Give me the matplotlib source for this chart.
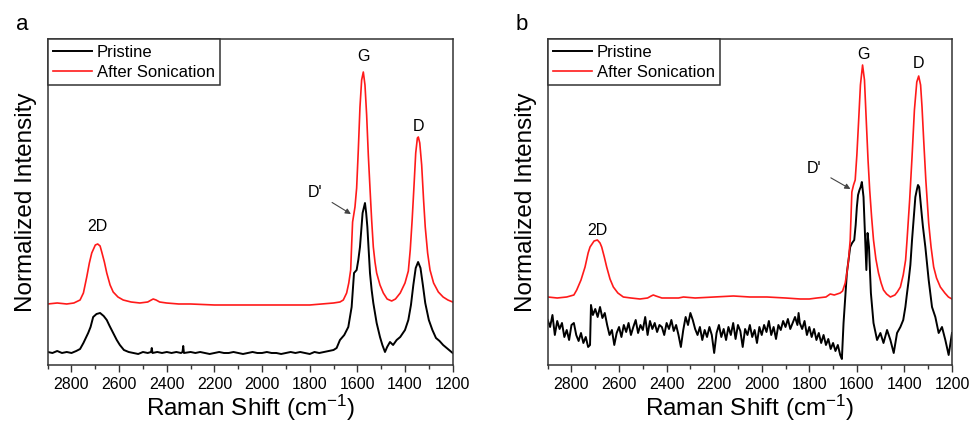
import numpy as np
import matplotlib.pyplot as plt
from matplotlib.ticker import MultipleLocator

plt.rcParams['font.family'] = ['Liberation Sans', 'DejaVu Sans']
plt.rcParams['mathtext.default'] = 'regular'

# ---- panel a : pristine (black) ----
a_pris_x = [2900, 2880, 2860, 2840, 2820, 2800, 2780, 2764, 2750, 2730, 2720, 2709, 2695, 2680,
            2665, 2652, 2640, 2625, 2610, 2597, 2580, 2560, 2540, 2520, 2500, 2480, 2466, 2463,
            2460, 2440, 2420, 2400, 2380, 2360, 2340, 2334, 2331, 2328, 2300, 2280, 2260, 2240,
            2220, 2200, 2180, 2160, 2140, 2120, 2100, 2080, 2060, 2040, 2020, 2000, 1980, 1960,
            1940, 1920, 1900, 1880, 1860, 1840, 1820, 1800, 1780, 1760, 1740, 1720, 1700, 1687,
            1673, 1655, 1638, 1624, 1614, 1603, 1596, 1589, 1578, 1568, 1563, 1558, 1547, 1540,
            1533, 1519, 1505, 1495, 1484, 1475, 1463, 1450, 1435, 1420, 1400, 1386, 1375, 1365,
            1355, 1345, 1335, 1325, 1315, 1300, 1285, 1270, 1255, 1240, 1225, 1210, 1200]
a_pris_y = [13, 12, 14, 12, 13, 12, 14, 16, 22, 32, 38, 48, 51, 52,
            49, 45, 39, 32, 25, 20, 15, 13, 12, 11, 13, 12, 13, 17,
            12, 13, 12, 13, 12, 13, 12, 13, 19, 12, 13, 12, 13, 12,
            11, 12, 13, 12, 12, 13, 12, 11, 12, 13, 12, 12, 13, 12,
            12, 11, 12, 13, 12, 13, 12, 11, 13, 12, 13, 14, 15, 17,
            25, 30, 38, 58, 92, 95, 105, 118, 152, 162, 152, 138, 92, 75,
            62, 42, 28, 20, 13, 18, 23, 20, 25, 28, 35, 45, 60, 80,
            97, 103, 97, 80, 62, 45, 35, 27, 24, 20, 17, 14, 12]

# ---- panel a : after sonication (red) ----
a_son_x = [2900, 2860, 2820, 2790, 2764, 2750, 2736, 2725, 2715, 2700, 2690, 2680, 2673, 2662,
           2652, 2638, 2625, 2605, 2583, 2550, 2513, 2480, 2465, 2457, 2445, 2430, 2401, 2350,
           2300, 2200, 2100, 2000, 1900, 1800, 1750, 1700, 1673, 1659, 1645, 1636, 1628, 1624,
           1620, 1610, 1603, 1596, 1589, 1582, 1575, 1568, 1561, 1554, 1547, 1540, 1533, 1526,
           1519, 1505, 1491, 1475, 1456, 1440, 1420, 1400, 1386, 1378, 1370, 1362, 1355, 1348,
           1344, 1338, 1330, 1322, 1315, 1305, 1295, 1280, 1260, 1240, 1220, 1200]
a_son_y = [61, 62, 61, 62, 65, 72, 88, 102, 112, 120, 121, 119, 113, 103,
           92, 80, 73, 68, 65, 63, 62, 63, 65, 66, 65, 63, 62, 61,
           61, 60, 60, 60, 60, 60, 61, 62, 63, 65, 72, 82, 95, 120,
           143, 158, 177, 215, 258, 285, 293, 280, 250, 210, 177, 145, 118, 103,
           92, 80, 72, 66, 64, 66, 72, 82, 94, 115, 145, 180, 212, 227,
           228, 222, 200, 165, 138, 112, 95, 82, 73, 68, 65, 63]

# ---- panel b : pristine (black, noisy) ----
b_pris_x = [2900, 2890, 2880, 2870, 2860, 2850, 2840, 2830, 2820, 2810, 2800, 2790, 2780, 2770,
            2760, 2750, 2740, 2730, 2722, 2718, 2710, 2700, 2690, 2680, 2670, 2660, 2650, 2640,
            2630, 2620, 2610, 2600, 2590, 2580, 2570, 2560, 2550, 2540, 2530, 2520, 2510, 2500,
            2490, 2480, 2470, 2460, 2450, 2440, 2430, 2420, 2410, 2400, 2390, 2380, 2370, 2360,
            2350, 2340, 2330, 2320, 2310, 2300, 2290, 2280, 2270, 2260, 2250, 2240, 2230, 2220,
            2210, 2200, 2190, 2180, 2170, 2160, 2150, 2140, 2130, 2120, 2110, 2100, 2090, 2080,
            2070, 2060, 2050, 2040, 2030, 2020, 2010, 2000, 1990, 1980, 1970, 1960, 1950, 1940,
            1930, 1920, 1910, 1900, 1890, 1880, 1870, 1860, 1850, 1845, 1840, 1830, 1820, 1810,
            1800, 1790, 1780, 1770, 1760, 1750, 1740, 1730, 1720, 1710, 1700, 1690, 1680, 1670,
            1663, 1656, 1642, 1628, 1620, 1611, 1605, 1600, 1595, 1589, 1584, 1579, 1572, 1565,
            1560, 1555, 1549, 1541, 1530, 1515, 1501, 1488, 1473, 1459, 1445, 1431, 1417, 1405,
            1396, 1390, 1382, 1375, 1368, 1360, 1354, 1348, 1343, 1338, 1333, 1327, 1322, 1312,
            1298, 1284, 1270, 1256, 1242, 1228, 1214, 1200]
b_pris_y = [45, 38, 50, 30, 44, 36, 42, 28, 35, 25, 40, 42, 30, 24,
            32, 22, 28, 18, 20, 60, 50, 56, 48, 58, 47, 52, 40, 30,
            35, 20, 32, 38, 28, 40, 33, 42, 30, 38, 45, 32, 40, 35,
            48, 30, 44, 36, 42, 33, 40, 38, 30, 42, 36, 45, 34, 40,
            30, 18, 35, 48, 40, 52, 45, 36, 30, 38, 25, 35, 28, 38,
            30, 12, 32, 40, 28, 36, 25, 38, 30, 42, 26, 40, 34, 18,
            36, 30, 40, 28, 35, 22, 38, 30, 40, 33, 44, 30, 38, 26,
            40, 35, 44, 38, 46, 36, 42, 48, 40, 52, 42, 36, 44, 30,
            38, 28, 36, 25, 32, 22, 30, 20, 26, 16, 22, 14, 20, 10,
            6, 42, 92, 118, 122, 125, 140, 158, 170, 175, 178, 183, 168, 125,
            95, 132, 118, 72, 42, 25, 32, 22, 35, 25, 12, 32, 38, 45,
            58, 70, 85, 100, 125, 150, 168, 175, 180, 178, 165, 150, 138, 118,
            85, 58, 48, 32, 38, 25, 10, 32]

# ---- panel b : after sonication (red) ----
b_son_x = [2900, 2860, 2820, 2790, 2778, 2760, 2743, 2730, 2722, 2705, 2691, 2680, 2673, 2662,
           2652, 2638, 2624, 2605, 2582, 2550, 2512, 2480, 2465, 2456, 2445, 2420, 2399, 2350,
           2329, 2280, 2200, 2119, 2050, 1978, 1900, 1838, 1800, 1768, 1730, 1712, 1695, 1670,
           1660, 1649, 1642, 1635, 1628, 1621, 1614, 1607, 1600, 1593, 1585, 1576, 1568, 1560,
           1553, 1546, 1538, 1530, 1520, 1509, 1498, 1488, 1475, 1459, 1440, 1430, 1417, 1405,
           1395, 1389, 1378, 1368, 1358, 1348, 1340, 1332, 1326, 1319, 1310, 1298, 1288, 1277,
           1265, 1249, 1230, 1215, 1200]
b_son_y = [68, 67, 68, 70, 75, 85, 98, 112, 118, 124, 125, 122, 118, 108,
           98, 86, 78, 72, 68, 67, 66, 67, 69, 70, 69, 67, 67, 67,
           68, 67, 68, 69, 68, 68, 67, 66, 66, 67, 68, 71, 70, 72,
           74, 82, 92, 105, 125, 173, 180, 185, 210, 242, 280, 300, 285, 242,
           205, 175, 148, 125, 106, 92, 82, 75, 71, 68, 70, 73, 78, 90,
           105, 125, 165, 208, 255, 283, 289, 280, 258, 225, 185, 142, 118, 98,
           87, 78, 72, 68, 66]

x_ticks = [2800, 2600, 2400, 2200, 2000, 1800, 1600, 1400, 1200]
legend_labels = ['Pristine', 'After Sonication']

# peak labels: (text, x, y)
a_peaks = [('2D', 2693, 139), ('G', 1576, 309), ('D', 1345, 239)]
b_peaks = [('2D', 2690, 135), ('G', 1574, 311), ('D', 1340, 302)]
# D' arrow: text pos, arrow tip
a_dprime = ((1778, 173), (1627, 151))
b_dprime = ((1782, 197), (1627, 176))

fig = plt.figure(figsize=(9.73, 4.25), dpi=100)
ax_a = fig.add_axes([0.049, 0.1412, 0.4162, 0.767])
ax_b = fig.add_axes([0.5629, 0.1412, 0.4155, 0.767])

panels = [
    (ax_a, a_pris_x, a_pris_y, a_son_x, a_son_y, a_peaks, a_dprime, 'a'),
    (ax_b, b_pris_x, b_pris_y, b_son_x, b_son_y, b_peaks, b_dprime, 'b'),
]

for ax, px, py, sx, sy, peaks, dprime, tag in panels:
    ax.plot(px, py, color='black', lw=1.4, label=legend_labels[0])
    ax.plot(sx, sy, color='#ff1a1a', lw=1.2, label=legend_labels[1])

    ax.set_xlim(2900, 1200)
    ax.set_ylim(0, 326)
    ax.set_xticks(x_ticks)
    ax.xaxis.set_minor_locator(MultipleLocator(100))
    ax.set_yticks([])
    ax.tick_params(axis='x', which='major', direction='out', length=5, width=1,
                   labelsize=11.5, top=False, colors='#333333', labelcolor='black')
    ax.tick_params(axis='x', which='minor', direction='out', length=3, width=1,
                   top=False, colors='#333333')
    for sp in ax.spines.values():
        sp.set_color('#333333')
        sp.set_linewidth(1.1)

    ax.set_xlabel('Raman Shift (cm$^{-1}$)', fontsize=17.5, labelpad=1)
    ax.set_ylabel('Normalized Intensity', fontsize=17.5, labelpad=8)

    for txt, x, y in peaks:
        ax.text(x, y, txt, fontsize=11.5, ha='center', va='center')
    (tx, ty), (hx, hy) = dprime
    ax.annotate("D'", xy=(hx, hy), xytext=(tx, ty), fontsize=11.5, ha='center', va='center',
                arrowprops=dict(arrowstyle='-|>', color='#444444', lw=0.8,
                                mutation_scale=8, shrinkA=6, shrinkB=0))

    leg = ax.legend(loc='upper left', bbox_to_anchor=(0, 1), borderaxespad=0,
                    fontsize=12, fancybox=False, framealpha=1, edgecolor='#333333',
                    handlelength=2.3, handletextpad=0.3, labelspacing=0.32,
                    borderpad=0.33)
    leg.get_frame().set_linewidth(1.1)

    ax.text(-0.063, 1.046, tag, transform=ax.transAxes, fontsize=16, ha='center', va='center')

plt.savefig('out.png', dpi=100)
